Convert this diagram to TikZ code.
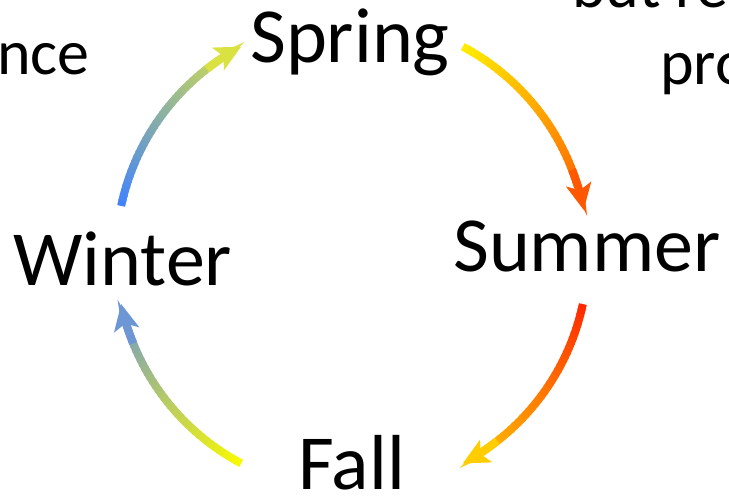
\documentclass[tikz,border=0pt]{standalone}
\usepackage{fontspec}
\setmainfont{Carlito}
\usepackage{tikz}
\usetikzlibrary{arrows.meta,calc}
\definecolor{sprY}{RGB}{255,238,0}
\definecolor{sprR}{RGB}{255,88,0}
\definecolor{sumR}{RGB}{255,40,0}
\definecolor{sumY}{RGB}{255,205,0}
\definecolor{falY}{RGB}{250,250,0}
\definecolor{falB}{RGB}{108,150,212}
\definecolor{winB}{RGB}{64,130,255}
\definecolor{winY}{RGB}{218,226,66}
\tikzset{
  season/.style={font=\fontsize{78}{90}\selectfont,inner sep=0pt,anchor=base west},
  aside/.style={font=\fontsize{64}{76}\selectfont,inner sep=0pt,anchor=base west},
  tip/.style={-{Stealth[length=26pt,width=25pt,inset=6pt]},line width=8pt}
}

\begin{document}
\begin{tikzpicture}[x=1pt,y=1pt]
\useasboundingbox (0,0) rectangle (729,500);
\clip (0,0) rectangle (729,500);
\coordinate (hub) at (352,245);
% gradient arc: from angle, to angle, start colour, end colour
\newcommand{\seasonarc}[4]{%
  \foreach \k in {1,...,36}{
    \pgfmathsetmacro\ka{#1+(#2-#1)*(\k-1)/36*0.88}
    \pgfmathsetmacro\kb{#1+(#2-#1)*(\k+0.3)/36*0.88}
    \pgfmathsetmacro\kp{100*(\k-0.5)/36*0.88}
    \draw[line width=8pt,color=#4!\kp!#3] ($(hub)+(\ka:236)$) arc[start angle=\ka,end angle=\kb,radius=236];
  }
  \pgfmathsetmacro\kc{#1+(#2-#1)*0.8}
  \draw[tip,color=#4] ($(hub)+(\kc:236)$) arc[start angle=\kc,end angle=#2,radius=236];
}
\node[season] (spring) at (250,437) {Spring};
\node[season] (summer) at (453,228) {Summer};
\node[season] (fall) at (298,10) {Fall};
\node[season] (winter) at (13,214) {Winter};
\node[aside] (leftrest) at (-3,425) {nce};
\node[aside] (toprest) at (572,492) {but re};
\node[aside] (rightrest) at (660,415) {pro};
\seasonarc{62}{11}{sprY}{sprR}
\seasonarc{-12}{-62}{sumR}{sumY}
\seasonarc{-118}{-168}{falY}{falB}
\seasonarc{168}{118}{winB}{winY}
\end{tikzpicture}
\end{document}
